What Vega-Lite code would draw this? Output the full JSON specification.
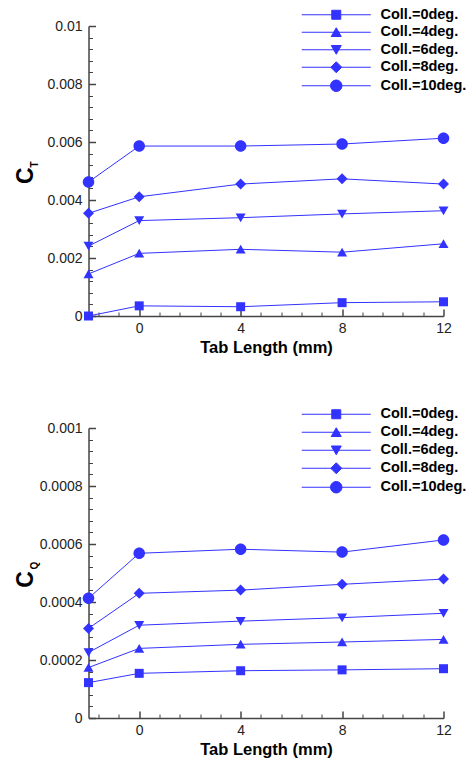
{
  "$schema": "https://vega.github.io/schema/vega-lite/v6.json",
  "padding": {"left": 14.5, "top": 7, "right": 5, "bottom": 5},
  "spacing": 51,
  "config": {"view": {"stroke": null}, "font": "Liberation Sans"},
  "resolve": {"scale": {"x": "independent", "y": "independent", "shape": "independent"}, "legend": {"shape": "independent"}},
  "datasets": {
    "ct": [
      {"tab": -2, "coll": "Coll.=0deg.", "value": 0.0},
      {"tab": 0, "coll": "Coll.=0deg.", "value": 0.00035},
      {"tab": 4, "coll": "Coll.=0deg.", "value": 0.00032},
      {"tab": 8, "coll": "Coll.=0deg.", "value": 0.00046},
      {"tab": 12, "coll": "Coll.=0deg.", "value": 0.00049},
      {"tab": -2, "coll": "Coll.=4deg.", "value": 0.00145},
      {"tab": 0, "coll": "Coll.=4deg.", "value": 0.00216},
      {"tab": 4, "coll": "Coll.=4deg.", "value": 0.0023},
      {"tab": 8, "coll": "Coll.=4deg.", "value": 0.0022},
      {"tab": 12, "coll": "Coll.=4deg.", "value": 0.00249},
      {"tab": -2, "coll": "Coll.=6deg.", "value": 0.00241},
      {"tab": 0, "coll": "Coll.=6deg.", "value": 0.00329},
      {"tab": 4, "coll": "Coll.=6deg.", "value": 0.00339},
      {"tab": 8, "coll": "Coll.=6deg.", "value": 0.00352},
      {"tab": 12, "coll": "Coll.=6deg.", "value": 0.00363},
      {"tab": -2, "coll": "Coll.=8deg.", "value": 0.00354},
      {"tab": 0, "coll": "Coll.=8deg.", "value": 0.00411},
      {"tab": 4, "coll": "Coll.=8deg.", "value": 0.00455},
      {"tab": 8, "coll": "Coll.=8deg.", "value": 0.00473},
      {"tab": 12, "coll": "Coll.=8deg.", "value": 0.00455},
      {"tab": -2, "coll": "Coll.=10deg.", "value": 0.00462},
      {"tab": 0, "coll": "Coll.=10deg.", "value": 0.00586},
      {"tab": 4, "coll": "Coll.=10deg.", "value": 0.00586},
      {"tab": 8, "coll": "Coll.=10deg.", "value": 0.00593},
      {"tab": 12, "coll": "Coll.=10deg.", "value": 0.00613}
    ],
    "cq": [
      {"tab": -2, "coll": "Coll.=0deg.", "value": 0.000122},
      {"tab": 0, "coll": "Coll.=0deg.", "value": 0.000154},
      {"tab": 4, "coll": "Coll.=0deg.", "value": 0.000163},
      {"tab": 8, "coll": "Coll.=0deg.", "value": 0.000166},
      {"tab": 12, "coll": "Coll.=0deg.", "value": 0.00017},
      {"tab": -2, "coll": "Coll.=4deg.", "value": 0.000174},
      {"tab": 0, "coll": "Coll.=4deg.", "value": 0.00024},
      {"tab": 4, "coll": "Coll.=4deg.", "value": 0.000254},
      {"tab": 8, "coll": "Coll.=4deg.", "value": 0.000262},
      {"tab": 12, "coll": "Coll.=4deg.", "value": 0.000271},
      {"tab": -2, "coll": "Coll.=6deg.", "value": 0.000226},
      {"tab": 0, "coll": "Coll.=6deg.", "value": 0.00032},
      {"tab": 4, "coll": "Coll.=6deg.", "value": 0.000334},
      {"tab": 8, "coll": "Coll.=6deg.", "value": 0.000346},
      {"tab": 12, "coll": "Coll.=6deg.", "value": 0.000361},
      {"tab": -2, "coll": "Coll.=8deg.", "value": 0.000309},
      {"tab": 0, "coll": "Coll.=8deg.", "value": 0.00043},
      {"tab": 4, "coll": "Coll.=8deg.", "value": 0.000441},
      {"tab": 8, "coll": "Coll.=8deg.", "value": 0.000461},
      {"tab": 12, "coll": "Coll.=8deg.", "value": 0.000479},
      {"tab": -2, "coll": "Coll.=10deg.", "value": 0.000413},
      {"tab": 0, "coll": "Coll.=10deg.", "value": 0.000568},
      {"tab": 4, "coll": "Coll.=10deg.", "value": 0.000582},
      {"tab": 8, "coll": "Coll.=10deg.", "value": 0.000572},
      {"tab": 12, "coll": "Coll.=10deg.", "value": 0.000614}
    ]
  },
  "vconcat": [
    {
      "width": 355,
      "height": 290,
      "data": {"name": "ct"},
      "resolve": {"axis": {"x": "independent", "y": "independent"}, "scale": {"shape": "independent"}},
      "layer": [
        {
          "mark": {"type": "line", "color": "#3333ff", "strokeWidth": 1},
          "encoding": {
            "x": {"field": "tab", "type": "quantitative",
              "scale": {"domain": [-2, 12], "nice": false, "zero": false},
              "axis": {"values": [0, 4, 8, 12], "format": "d", "tickSize": -7, "tickColor": "#444", "tickWidth": 1.5,
                "domainColor": "#444", "domainWidth": 1.5, "labelFontSize": 14, "labelColor": "#222", "labelPadding": 12,
                "labelFlush": false, "grid": false, "title": "Tab Length (mm)", "titleFontSize": 16.5, "titleFontWeight": "bold",
                "titleColor": "#000", "titleX": 177.5, "titleY": 36, "titleBaseline": "alphabetic", "titleAlign": "center"}},
            "y": {"field": "value", "type": "quantitative",
              "scale": {"domain": [0, 0.01], "nice": false, "zero": false},
              "axis": {"values": [0, 0.002, 0.004, 0.006, 0.008, 0.01], "format": "~g", "tickSize": -7, "tickColor": "#444", "tickWidth": 1.5,
                "domainColor": "#444", "domainWidth": 1.5, "labelFontSize": 14, "labelColor": "#222", "labelPadding": 13.5,
                "labelFlush": false, "grid": false, "title": "C", "titleFontSize": 23, "titleFontWeight": "bold", "titleColor": "#000",
                "titleX": -56, "titleY": 149.3, "titleAngle": 270, "titleAlign": "center", "titleBaseline": "alphabetic"}},
            "detail": {"field": "coll"}
          }
        },
        {
          "mark": {"type": "point", "filled": true, "opacity": 1, "size": 100, "color": "#3333ff"},
          "encoding": {
            "x": {"field": "tab", "type": "quantitative",
              "axis": {"orient": "bottom", "values": [-1.6, -0.8, 0.8, 1.6, 2.4, 3.2, 4.8, 5.6, 6.4, 7.2, 8.8, 9.6, 10.4, 11.2],
                "tickSize": -4, "tickColor": "#444", "tickWidth": 1, "labels": false, "domain": false, "grid": false, "title": null}},
            "y": {"field": "value", "type": "quantitative",
              "axis": {"orient": "left", "values": [0.0004, 0.0008, 0.0012, 0.0016, 0.0024, 0.0028, 0.0032, 0.0036, 0.0044, 0.0048, 0.0052, 0.0056, 0.0064, 0.0068, 0.0072, 0.0076, 0.0084, 0.0088, 0.0092, 0.0096],
                "tickSize": -4, "tickColor": "#444", "tickWidth": 1, "labels": false, "domain": false, "grid": false,
                "title": "T", "titleFontSize": 10, "titleFontWeight": "bold", "titleColor": "#000",
                "titleX": -50.8, "titleY": 138, "titleAngle": 270, "titleAlign": "center", "titleBaseline": "alphabetic"}},
            "shape": {"field": "coll", "type": "nominal",
              "scale": {"range": ["M-0.9,-0.9H0.9V0.9H-0.9Z", "M-1.15,0A1.15,1.15,0,1,0,1.15,0A1.15,1.15,0,1,0,-1.15,0Z", "M0,-0.9L1,0.85L-1,0.85Z", "M0,0.9L1,-0.85L-1,-0.85Z", "M0,-1.1L1.1,0L0,1.1L-1.1,0Z"]},
              "legend": null}
          }
        },
        {
          "mark": {"type": "point", "filled": true, "fill": "#3333ff", "stroke": "#3333ff", "strokeWidth": 1, "opacity": 0, "size": 100},
          "encoding": {
            "x": {"field": "tab", "type": "quantitative", "axis": null},
            "y": {"field": "value", "type": "quantitative", "axis": null},
            "shape": {"field": "coll", "type": "nominal",
              "scale": {"domain": ["Coll.=0deg.", "Coll.=4deg.", "Coll.=6deg.", "Coll.=8deg.", "Coll.=10deg."],
                "range": ["M-6.9,0H6.9M-0.9,-0.9H0.9V0.9H-0.9Z", "M-6.9,0H6.9M0,-0.9L1,0.85L-1,0.85Z", "M-6.9,0H6.9M0,0.9L1,-0.85L-1,-0.85Z", "M-6.9,0H6.9M0,-1.1L1.1,0L0,1.1L-1.1,0Z", "M-6.9,0H6.9M-1.15,0A1.15,1.15,0,1,0,1.15,0A1.15,1.15,0,1,0,-1.15,0Z"]},
              "legend": {"orient": "none", "legendX": 240.5, "legendY": -18.5, "title": null, "padding": 0, "rowPadding": 2.5,
                "labelOffset": 37, "symbolSize": 100, "symbolOpacity": 1,
                "symbolStrokeWidth": 1, "labelFontSize": 14.5, "labelFontWeight": "bold", "labelColor": "#000",
                "labelLimit": 300, "labelBaseline": "middle"}}
          }
        }
      ]
    },
    {
      "width": 355,
      "height": 290,
      "data": {"name": "cq"},
      "resolve": {"axis": {"x": "independent", "y": "independent"}, "scale": {"shape": "independent"}},
      "layer": [
        {
          "mark": {"type": "line", "color": "#3333ff", "strokeWidth": 1},
          "encoding": {
            "x": {"field": "tab", "type": "quantitative",
              "scale": {"domain": [-2, 12], "nice": false, "zero": false},
              "axis": {"values": [0, 4, 8, 12], "format": "d", "tickSize": -7, "tickColor": "#444", "tickWidth": 1.5,
                "domainColor": "#444", "domainWidth": 1.5, "labelFontSize": 14, "labelColor": "#222", "labelPadding": 12,
                "labelFlush": false, "grid": false, "title": "Tab Length (mm)", "titleFontSize": 16.5, "titleFontWeight": "bold",
                "titleColor": "#000", "titleX": 177.5, "titleY": 36, "titleBaseline": "alphabetic", "titleAlign": "center"}},
            "y": {"field": "value", "type": "quantitative",
              "scale": {"domain": [0, 0.001], "nice": false, "zero": false},
              "axis": {"values": [0, 0.0002, 0.0004, 0.0006, 0.0008, 0.001], "format": "~g", "tickSize": -7, "tickColor": "#444", "tickWidth": 1.5,
                "domainColor": "#444", "domainWidth": 1.5, "labelFontSize": 14, "labelColor": "#222", "labelPadding": 13.5,
                "labelFlush": false, "grid": false, "title": "C", "titleFontSize": 23, "titleFontWeight": "bold", "titleColor": "#000",
                "titleX": -56, "titleY": 151, "titleAngle": 270, "titleAlign": "center", "titleBaseline": "alphabetic"}},
            "detail": {"field": "coll"}
          }
        },
        {
          "mark": {"type": "point", "filled": true, "opacity": 1, "size": 100, "color": "#3333ff"},
          "encoding": {
            "x": {"field": "tab", "type": "quantitative",
              "axis": {"orient": "bottom", "values": [-1.6, -0.8, 0.8, 1.6, 2.4, 3.2, 4.8, 5.6, 6.4, 7.2, 8.8, 9.6, 10.4, 11.2],
                "tickSize": -4, "tickColor": "#444", "tickWidth": 1, "labels": false, "domain": false, "grid": false, "title": null}},
            "y": {"field": "value", "type": "quantitative",
              "axis": {"orient": "left", "values": [0.00004, 0.00008, 0.00012, 0.00016, 0.00024, 0.00028, 0.00032, 0.00036, 0.00044, 0.00048, 0.00052, 0.00056, 0.00064, 0.00068, 0.00072, 0.00076, 0.00084, 0.00088, 0.00092, 0.00096],
                "tickSize": -4, "tickColor": "#444", "tickWidth": 1, "labels": false, "domain": false, "grid": false,
                "title": "Q", "titleFontSize": 10, "titleFontWeight": "bold", "titleColor": "#000",
                "titleX": -50.8, "titleY": 137, "titleAngle": 270, "titleAlign": "center", "titleBaseline": "alphabetic"}},
            "shape": {"field": "coll", "type": "nominal",
              "scale": {"range": ["M-0.9,-0.9H0.9V0.9H-0.9Z", "M-1.15,0A1.15,1.15,0,1,0,1.15,0A1.15,1.15,0,1,0,-1.15,0Z", "M0,-0.9L1,0.85L-1,0.85Z", "M0,0.9L1,-0.85L-1,-0.85Z", "M0,-1.1L1.1,0L0,1.1L-1.1,0Z"]},
              "legend": null}
          }
        },
        {
          "mark": {"type": "point", "filled": true, "fill": "#3333ff", "stroke": "#3333ff", "strokeWidth": 1, "opacity": 0, "size": 100},
          "encoding": {
            "x": {"field": "tab", "type": "quantitative", "axis": null},
            "y": {"field": "value", "type": "quantitative", "axis": null},
            "shape": {"field": "coll", "type": "nominal",
              "scale": {"domain": ["Coll.=0deg.", "Coll.=4deg.", "Coll.=6deg.", "Coll.=8deg.", "Coll.=10deg."],
                "range": ["M-6.9,0H6.9M-0.9,-0.9H0.9V0.9H-0.9Z", "M-6.9,0H6.9M0,-0.9L1,0.85L-1,0.85Z", "M-6.9,0H6.9M0,0.9L1,-0.85L-1,-0.85Z", "M-6.9,0H6.9M0,-1.1L1.1,0L0,1.1L-1.1,0Z", "M-6.9,0H6.9M-1.15,0A1.15,1.15,0,1,0,1.15,0A1.15,1.15,0,1,0,-1.15,0Z"]},
              "legend": {"orient": "none", "legendX": 240.5, "legendY": -21, "title": null, "padding": 0, "rowPadding": 3,
                "labelOffset": 37, "symbolSize": 100, "symbolOpacity": 1,
                "symbolStrokeWidth": 1, "labelFontSize": 14.5, "labelFontWeight": "bold", "labelColor": "#000",
                "labelLimit": 300, "labelBaseline": "middle"}}
          }
        }
      ]
    }
  ]
}
